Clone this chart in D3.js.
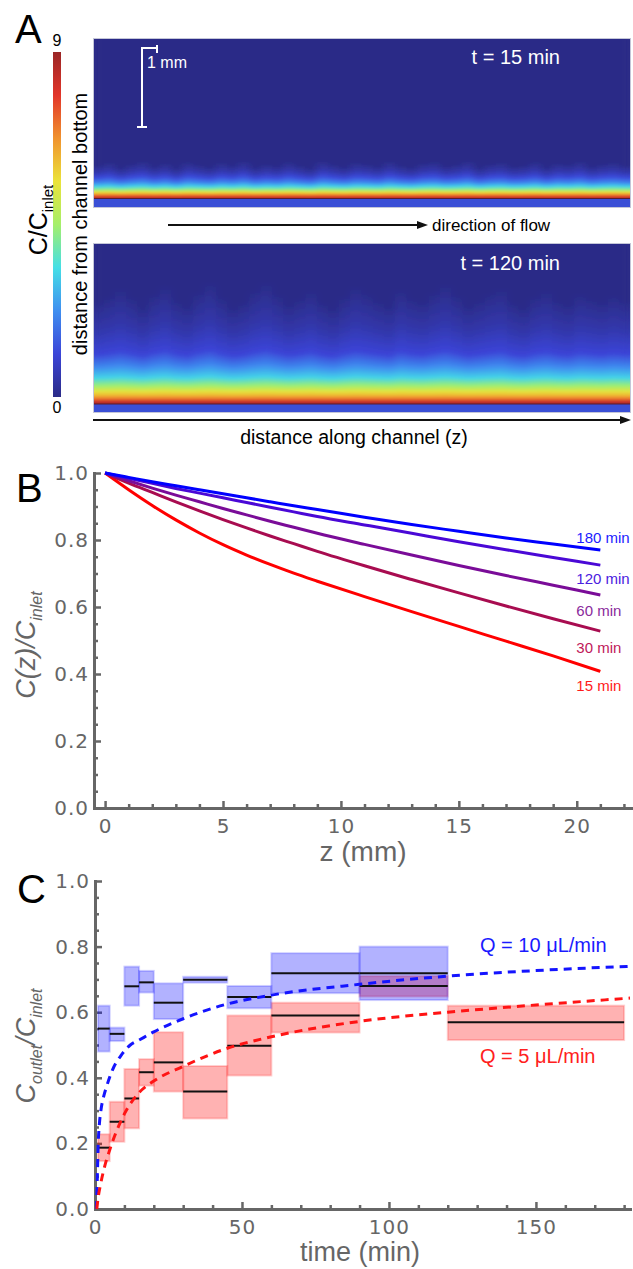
<!DOCTYPE html>
<html>
<head>
<meta charset="utf-8">
<script src="https://cdn.jsdelivr.net/npm/d3@7"></script>
<style>
body { margin: 0; background: #fff; }
svg { display: block; font-family: "Liberation Sans", Arial, sans-serif; }
</style>
</head>
<body>
<svg id="fig" width="633" height="1269"></svg>
<script>
// ---- panel A: concentration profile above channel bottom (height in mm, C/C_inlet)
var profileHeight15 = [0, 0.02, 0.05, 0.08, 0.11, 0.15, 0.2, 0.26, 0.33, 0.42];
var profileConc15 = [9, 8, 6.8, 5.6, 4.3, 3.2, 2.1, 1.2, 0.5, 0];
var profileHeight120 = [0, 0.03, 0.07, 0.11, 0.16, 0.23, 0.33, 0.46, 0.63, 0.92, 1.3];
var profileConc120 = [9, 8.2, 7, 6.2, 5.5, 4.4, 3.2, 2.2, 1.1, 0.5, 0];
// relative plume height along the channel
var plume15 = [1.0, 1.1, 0.92, 1.05, 1.14, 0.96, 1.08, 0.9, 1.12, 1.02, 0.94, 1.1, 1.0, 1.15, 0.93, 1.05, 0.97, 1.12, 1.0, 0.9, 1.15, 1.03, 0.94, 1.1, 1.05, 0.96, 1.14, 1.0, 0.93, 1.07, 1.12, 0.97, 1.03, 1.15, 0.92, 1.05, 1.1, 0.96, 1.0, 1.12, 0.93, 1.08, 1.02, 1.14, 0.96, 1.05, 1.1, 1.0];
var plume120 = [1.0, 1.06, 1.14, 1.05, 0.94, 1.08, 1.17, 1.02, 0.96, 1.1, 1.2, 1.05, 0.94, 1.0, 1.12, 1.2, 1.08, 0.97, 1.04, 1.12, 1.0, 0.93, 1.06, 1.16, 1.09, 1.02, 0.96, 1.13, 1.04, 1.0, 1.1, 1.18, 1.07, 0.96, 1.02, 1.09, 1.14, 1.0, 0.94, 1.06, 1.12, 1.02, 0.97, 1.09, 1.04, 1.0, 1.07, 1.02];
var colorbarTicks = [0, 9];

// ---- panel B: C(z)/C_inlet along channel
var zB = [0, 1, 2, 3, 4, 5, 6, 7, 8, 9, 11, 13, 15, 17, 19, 21];
var c180 = [1, 0.987, 0.974, 0.962, 0.95, 0.938, 0.926, 0.914, 0.902, 0.891, 0.868, 0.846, 0.826, 0.806, 0.788, 0.77];
var c120 = [1, 0.984, 0.969, 0.954, 0.94, 0.926, 0.912, 0.898, 0.884, 0.87, 0.845, 0.82, 0.795, 0.771, 0.748, 0.725];
var c60 = [1, 0.977, 0.955, 0.934, 0.914, 0.894, 0.875, 0.856, 0.838, 0.82, 0.787, 0.755, 0.724, 0.694, 0.665, 0.636];
var c30 = [1, 0.97, 0.942, 0.914, 0.887, 0.861, 0.836, 0.812, 0.789, 0.766, 0.723, 0.682, 0.642, 0.603, 0.565, 0.528];
var c15 = [1, 0.95, 0.903, 0.86, 0.821, 0.786, 0.755, 0.727, 0.701, 0.677, 0.631, 0.586, 0.542, 0.498, 0.454, 0.408];
var curveNames = ['180 min', '120 min', '60 min', '30 min', '15 min'];
var zMajor = [0, 5, 10, 15, 20];
var yMajor = [0, 0.2, 0.4, 0.6, 0.8, 1.0];

// ---- panel C: C_outlet/C_inlet vs time
var q10Start = [1, 5, 10, 15, 20, 30, 45, 60, 90];
var q10End = [5, 10, 15, 20, 30, 45, 60, 90, 120];
var q10Mid = [0.55, 0.534, 0.679, 0.691, 0.629, 0.699, 0.646, 0.719, 0.719];
var q10Low = [0.48, 0.512, 0.62, 0.66, 0.579, 0.69, 0.612, 0.658, 0.637];
var q10High = [0.62, 0.553, 0.739, 0.726, 0.688, 0.708, 0.68, 0.78, 0.80];
var q5Start = [1, 5, 10, 15, 20, 30, 45, 60, 90, 120];
var q5End = [5, 10, 15, 20, 30, 45, 60, 90, 120, 180];
var q5Mid = [0.187, 0.266, 0.337, 0.417, 0.447, 0.358, 0.498, 0.59, 0.68, 0.569];
var q5Low = [0.146, 0.205, 0.246, 0.376, 0.358, 0.276, 0.407, 0.538, 0.648, 0.515];
var q5High = [0.228, 0.327, 0.427, 0.457, 0.539, 0.436, 0.59, 0.629, 0.71, 0.62];
var tFit10 = [0.5, 0.8, 1.1, 1.5, 2, 3, 4, 6, 9, 12, 15, 20, 30, 45, 60, 90, 120, 150, 182];
var fit10 = [0, 0.1, 0.2, 0.26, 0.3, 0.345, 0.375, 0.425, 0.47, 0.5, 0.515, 0.54, 0.58, 0.625, 0.652, 0.685, 0.71, 0.727, 0.74];
var tFit5 = [0.6, 1, 2, 3, 5, 7, 10, 15, 20, 30, 45, 60, 90, 120, 150, 182];
var fit5 = [0, 0.03, 0.08, 0.12, 0.18, 0.23, 0.29, 0.355, 0.39, 0.435, 0.49, 0.525, 0.572, 0.6, 0.622, 0.643];
var tMajor = [0, 50, 100, 150];

var svg = d3.select('#fig');
var defs = svg.append('defs');
var gray = '#666';

// jet-like map used in the images
var jetStops = [0, 0.125, 0.25, 0.375, 0.5, 0.625, 0.75, 0.875, 1];
var jetColors = ['#2b2b87', '#3b45d8', '#3f8ff0', '#45dfe6', '#a5ef6a', '#ebe33a', '#f0922e', '#e2352a', '#9a2626'];
var heatColor = d3.scaleLinear().domain(jetStops.map(function(d){ return d*9; })).range(jetColors);

var pxPerMm = 79;
var heatLeft = 93, heatRight = 631;

defs.append('filter').attr('id', 'hblur').attr('x', '-5%').attr('width', '110%')
	.append('feGaussianBlur').attr('stdDeviation', '4.5 1.2');

function drawHeatPanel(id, top, interfaceY, bottom, heights, concs, plume, label, labelY){
	var width = heatRight - heatLeft;
	var hmax = d3.max(heights);
	var gradTop = hmax*1.5;
	var hy = d3.scaleLinear().domain([0, (interfaceY-top)/pxPerMm]).range([interfaceY, top]);

	defs.append('clipPath').attr('id', 'clip_'+id)
		.append('rect').attr('x', heatLeft).attr('y', top).attr('width', width).attr('height', bottom-top);

	function addGradient(gid, factor){
		var grad = defs.append('linearGradient').attr('id', gid)
			.attr('gradientUnits', 'userSpaceOnUse')
			.attr('x1', 0).attr('x2', 0).attr('y1', hy(0)).attr('y2', hy(gradTop));
		heights.forEach(function(h, j){
			var hh = h*(1 + (factor-1)*h/hmax);
			grad.append('stop').attr('offset', hh/gradTop).attr('stop-color', heatColor(concs[j]));
		});
	}

	var g = svg.append('g').attr('clip-path', 'url(#clip_'+id+')');
	g.append('rect').attr('x', heatLeft).attr('y', top).attr('width', width).attr('height', interfaceY-top)
		.attr('fill', heatColor(0));
	addGradient('base_'+id, 1);
	g.append('rect').attr('x', heatLeft).attr('y', top).attr('width', width).attr('height', interfaceY-top)
		.attr('fill', 'url(#base_'+id+')');

	var colW = width/plume.length;
	var cols = g.append('g').attr('filter', 'url(#hblur)');
	plume.forEach(function(f, i){
		addGradient('col_'+id+'_'+i, f);
		cols.append('rect')
			.attr('x', heatLeft + i*colW - 0.5).attr('y', top)
			.attr('width', colW + 1).attr('height', interfaceY-top)
			.attr('fill', 'url(#col_'+id+'_'+i+')');
	});

	// channel wall strip
	g.append('rect').attr('x', heatLeft).attr('y', interfaceY).attr('width', width).attr('height', bottom-interfaceY)
		.attr('fill', '#3a4fd6');
	g.append('line').attr('x1', heatLeft).attr('x2', heatRight).attr('y1', interfaceY).attr('y2', interfaceY)
		.attr('stroke', '#5a1c30').attr('stroke-width', 1.2);

	svg.append('rect').attr('x', heatLeft+0.5).attr('y', top+0.5).attr('width', width-1).attr('height', bottom-top-1)
		.attr('fill', 'none').attr('stroke', '#c4c6d8').attr('stroke-width', 1);

	svg.append('text').attr('x', 560).attr('y', labelY).attr('text-anchor', 'end')
		.attr('fill', '#fff').style('font-size', '20px').text(label);
	return hy;
}

function arrow(x1, x2, y){
	svg.append('line').attr('x1', x1).attr('x2', x2-8).attr('y1', y).attr('y2', y)
		.attr('stroke', '#111').attr('stroke-width', 2);
	svg.append('path').attr('d', 'M'+(x2-11)+','+(y-4)+'L'+x2+','+y+'L'+(x2-11)+','+(y+4)+'Z').attr('fill', '#111');
}

// ================= panel A
svg.append('text').attr('x', 15).attr('y', 43).style('font-size', '40px').text('A');

var cbY = d3.scaleLinear().domain([0, 9]).range([397, 52]);
var cbGrad = defs.append('linearGradient').attr('id', 'cbGrad')
	.attr('gradientUnits', 'userSpaceOnUse').attr('x1', 0).attr('x2', 0).attr('y1', cbY(0)).attr('y2', cbY(9));
jetStops.forEach(function(s, i){
	cbGrad.append('stop').attr('offset', s).attr('stop-color', jetColors[i]);
});
svg.append('rect').attr('x', 53).attr('y', cbY(9)).attr('width', 8).attr('height', cbY(0)-cbY(9))
	.attr('fill', 'url(#cbGrad)');
svg.selectAll('.cbTick').data(colorbarTicks).enter().append('text')
	.attr('x', 57).attr('y', function(d){ return d === 0 ? cbY(d)+16 : cbY(d)-6; })
	.attr('text-anchor', 'middle').style('font-size', '16px').text(function(d){ return d; });

var cbLabel = svg.append('text').attr('transform', 'translate(47,220) rotate(-90)')
	.attr('text-anchor', 'middle').style('font-size', '25px');
cbLabel.append('tspan').text('C/C');
cbLabel.append('tspan').attr('dy', 6).style('font-size', '15px').text('inlet');

svg.append('text').attr('transform', 'translate(87,224) rotate(-90)')
	.attr('text-anchor', 'middle').style('font-size', '20px').text('distance from channel bottom');

drawHeatPanel('t15', 38, 198.5, 208, profileHeight15, profileConc15, plume15, 't = 15 min', 64);
drawHeatPanel('t120', 243, 404, 413, profileHeight120, profileConc120, plume120, 't = 120 min', 270);

// 1 mm scale bar
var sbX = 142, sbTop = 48;
var sbBottom = sbTop + pxPerMm;
var sb = svg.append('g').attr('stroke', '#fff').attr('stroke-width', 2).attr('fill', 'none');
sb.append('path').attr('d', 'M'+sbX+','+sbBottom+'V'+sbTop+'H'+(sbX+15));
sb.append('path').attr('d', 'M'+(sbX+15)+','+(sbTop-3)+'V'+(sbTop+5));
sb.append('path').attr('d', 'M'+(sbX-5)+','+sbBottom+'H'+(sbX+5));
svg.append('text').attr('x', 147).attr('y', 68).attr('fill', '#fff').style('font-size', '16px').text('1 mm');

arrow(168, 428, 225);
svg.append('text').attr('x', 432).attr('y', 231).style('font-size', '17px').text('direction of flow');
arrow(93, 631, 420);
svg.append('text').attr('x', 354).attr('y', 444).attr('text-anchor', 'middle').style('font-size', '19.5px')
	.text('distance along channel (z)');

// ================= axes helper
function drawAxes(x, y, xMajor, xMinor, yMaj, yMinor){
	var ax = svg.append('g');
	var x0 = x.range()[0], y0 = y.range()[0];
	ax.append('g').attr('transform', 'translate(0,'+y0+')')
		.call(d3.axisBottom(x).tickValues(xMinor).tickSizeInner(-4).tickSizeOuter(0).tickFormat(''));
	ax.append('g').attr('transform', 'translate('+x0+',0)')
		.call(d3.axisLeft(y).tickValues(yMinor).tickSizeInner(-4).tickSizeOuter(0).tickFormat(''));
	ax.append('g').attr('transform', 'translate(0,'+y0+')')
		.call(d3.axisBottom(x).tickValues(xMajor).tickSizeInner(-7).tickSizeOuter(0).tickPadding(11).tickFormat(d3.format('d')));
	ax.append('g').attr('transform', 'translate('+x0+',0)')
		.call(d3.axisLeft(y).tickValues(yMaj).tickSizeInner(-7).tickSizeOuter(0).tickPadding(5).tickFormat(d3.format('.1f')));
	ax.selectAll('.domain').attr('stroke', gray).attr('stroke-width', 3).attr('stroke-linecap', 'square');
	ax.selectAll('.tick line').attr('stroke', gray).attr('stroke-width', 2.5);
	ax.selectAll('.tick text').attr('fill', gray)
		.style('font-family', '"DejaVu Sans", sans-serif').style('font-size', '20px').style('letter-spacing', '1px');
}

function yLabel(cx, cy, main, sub1, mid, sub2){
	var t = svg.append('text').attr('transform', 'translate('+cx+','+cy+') rotate(-90)')
		.attr('text-anchor', 'middle').attr('fill', gray)
		.style('font-size', '27px').style('font-style', 'italic');
	t.append('tspan').text(main);
	if(sub1){
		t.append('tspan').attr('dy', 7).style('font-size', '16px').text(sub1);
		t.append('tspan').attr('dy', -7).text(mid);
	}
	else{
		t.append('tspan').text(mid);
	}
	t.append('tspan').attr('dy', 7).style('font-size', '16px').text(sub2);
}

// ================= panel B
svg.append('text').attr('x', 16).attr('y', 502).style('font-size', '40px').text('B');
var xB = d3.scaleLinear().domain([-0.47, 22.3]).range([94, 631]);
var yB = d3.scaleLinear().domain([0, 1]).range([808, 473]);
drawAxes(xB, yB, zMajor, d3.range(0, 23).filter(function(d){ return d % 5 !== 0; }),
	yMajor, d3.range(0, 21).map(function(d){ return d/20; }).filter(function(d, i){ return i % 4 !== 0; }));

var curvesB = [c180, c120, c60, c30, c15];
var curveColors = ['#0000ff', '#4a08d6', '#7a0c98', '#a80c50', '#ff0000'];
var labelColors = ['#1c1cff', '#4a20e0', '#8a2a9c', '#c0185a', '#ff1a1a'];
var labelDy = [-7, 19, 21, 22, 20];
var lineB = d3.line().x(function(d){ return xB(d[0]); }).y(function(d){ return yB(d[1]); }).curve(d3.curveMonotoneX);
curvesB.slice().reverse().forEach(function(c, k){
	var i = curvesB.length - 1 - k;
	svg.append('path').attr('d', lineB(d3.zip(zB, c))).attr('fill', 'none')
		.attr('stroke', curveColors[i]).attr('stroke-width', 3);
});
curvesB.forEach(function(c, i){
	svg.append('text').attr('x', xB(zB[zB.length-1]) - 24).attr('y', yB(c[c.length-1]) + labelDy[i])
		.attr('fill', labelColors[i]).style('font-size', '15px').text(curveNames[i]);
});
svg.append('text').attr('x', 363).attr('y', 861).attr('text-anchor', 'middle').attr('fill', gray)
	.style('font-size', '28px').text('z (mm)');
yLabel(35, 645, 'C(z)/C', null, '', 'inlet');

// ================= panel C
svg.append('text').attr('x', 17).attr('y', 903).style('font-size', '40px').text('C');
var xC = d3.scaleLinear().domain([0, 182]).range([95, 630]);
var yC = d3.scaleLinear().domain([0, 1]).range([1209, 881]);
drawAxes(xC, yC, tMajor, d3.range(10, 181, 10).filter(function(d){ return d % 50 !== 0; }),
	yMajor, d3.range(0, 21).map(function(d){ return d/20; }).filter(function(d, i){ return i % 4 !== 0; }));

function drawBoxes(starts, ends, lows, highs, color){
	svg.append('g').selectAll('rect').data(starts).enter().append('rect')
		.attr('x', function(d){ return xC(d); })
		.attr('width', function(d, i){ return xC(ends[i]) - xC(d); })
		.attr('y', function(d, i){ return yC(highs[i]); })
		.attr('height', function(d, i){ return yC(lows[i]) - yC(highs[i]); })
		.attr('fill', color).attr('fill-opacity', 0.3)
		.attr('stroke', color).attr('stroke-opacity', 0.18).attr('stroke-width', 2);
}
function drawMedians(starts, ends, mids){
	svg.append('g').selectAll('line').data(starts).enter().append('line')
		.attr('x1', function(d){ return xC(d); })
		.attr('x2', function(d, i){ return xC(ends[i]); })
		.attr('y1', function(d, i){ return yC(mids[i]); })
		.attr('y2', function(d, i){ return yC(mids[i]); })
		.attr('stroke', '#111').attr('stroke-width', 2);
}
drawBoxes(q5Start, q5End, q5Low, q5High, '#ff0000');
drawBoxes(q10Start, q10End, q10Low, q10High, '#0000ff');
drawMedians(q5Start, q5End, q5Mid);
drawMedians(q10Start, q10End, q10Mid);

var lineC = d3.line().x(function(d){ return xC(d[0]); }).y(function(d){ return yC(d[1]); }).curve(d3.curveMonotoneX);
svg.append('path').attr('d', lineC(d3.zip(tFit10, fit10))).attr('fill', 'none')
	.attr('stroke', '#1414ff').attr('stroke-width', 3).attr('stroke-dasharray', '8,6');
svg.append('path').attr('d', lineC(d3.zip(tFit5, fit5))).attr('fill', 'none')
	.attr('stroke', '#ff1414').attr('stroke-width', 3).attr('stroke-dasharray', '8,6');

svg.append('text').attr('x', 480).attr('y', 952).attr('fill', '#1a1aff').style('font-size', '20px').text('Q = 10 μL/min');
svg.append('text').attr('x', 480).attr('y', 1063).attr('fill', '#ff2020').style('font-size', '20px').text('Q = 5 μL/min');
svg.append('text').attr('x', 360).attr('y', 1261).attr('text-anchor', 'middle').attr('fill', gray)
	.style('font-size', '27px').text('time (min)');
yLabel(35, 1046, 'C', 'outlet', '/C', 'inlet');
</script>
</body>
</html>
